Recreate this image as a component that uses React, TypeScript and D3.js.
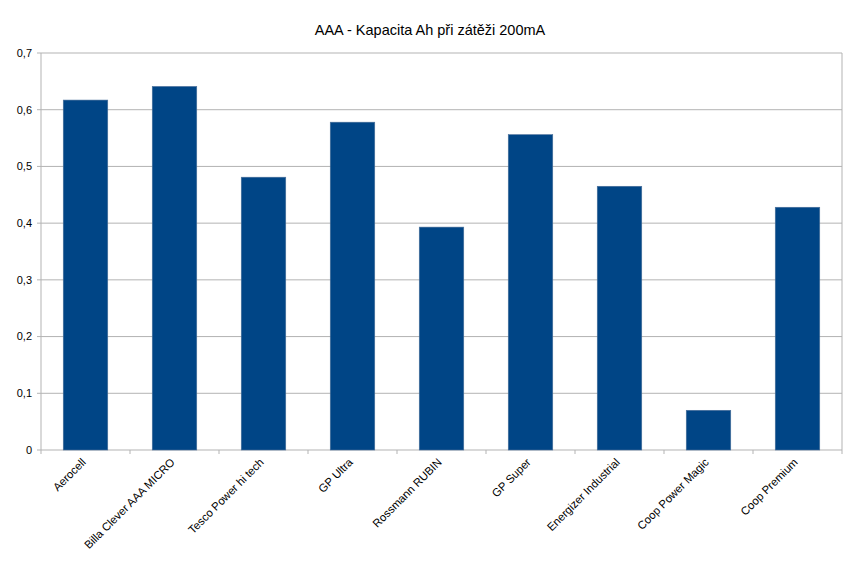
import React from "react";
import * as d3 from "d3";

const title = "AAA - Kapacita Ah při zátěži 200mA";
const categories = [
  "Aerocell",
  "Billa Clever AAA MICRO",
  "Tesco Power hi tech",
  "GP Ultra",
  "Rossmann RUBIN",
  "GP Super",
  "Energizer Industrial",
  "Coop Power Magic",
  "Coop Premium",
];
const values = [0.617, 0.641, 0.481, 0.578, 0.393, 0.556, 0.465, 0.07, 0.428];
const yTicks = [0, 0.1, 0.2, 0.3, 0.4, 0.5, 0.6, 0.7];

export default function App() {
  const W = 860, H = 571;
  const left = 41, right = 842, top = 53, bottom = 450;
  const x = d3.scaleBand<string>().domain(categories).range([left, right]).paddingInner(0.5).paddingOuter(0.25);
  const band = d3.scaleBand<string>().domain(categories).range([left, right]);
  const y = d3.scaleLinear().domain([0, 0.7]).range([bottom, top]);
  const fmt = (v: number) => (v === 0 ? "0" : v.toFixed(1).replace(".", ","));
  const font = "'Liberation Sans', Arial, sans-serif";
  return (
    <svg width={W} height={H} style={{ position: "absolute", left: 0, top: 0, background: "#fff" }} fontFamily={font}>
      <rect x={0} y={0} width={W} height={H} fill="#fff" />
      <text x={430} y={35} textAnchor="middle" fontSize={14.5} fill="#000">{title}</text>
      {yTicks.map((t) => (
        <g key={t}>
          <line x1={left - 4} x2={right} y1={y(t)} y2={y(t)} stroke="#b3b3b3" strokeWidth={1} />
          <text x={32} y={y(t)} dy="0.35em" textAnchor="end" fontSize={11} fill="#000">{fmt(t)}</text>
        </g>
      ))}
      <line x1={left} x2={left} y1={top} y2={bottom} stroke="#b3b3b3" />
      <line x1={right} x2={right} y1={top} y2={bottom + 4} stroke="#b3b3b3" />
      {categories.map((c) => (
        <line key={"t" + c} x1={band(c)!} x2={band(c)!} y1={bottom} y2={bottom + 4} stroke="#b3b3b3" />
      ))}
      {categories.map((c, i) => (
        <rect key={c} x={x(c)!} y={y(values[i])} width={x.bandwidth()} height={bottom - y(values[i])} fill="#004586" stroke="#4a6f9a" strokeWidth={0.6} />
      ))}
      {categories.map((c) => {
        const cx = band(c)! + band.bandwidth() / 2;
        return (
          <text key={"l" + c} transform={`translate(${cx + 1},${463}) rotate(-45)`} textAnchor="end" fontSize={11.3} fill="#000">{c}</text>
        );
      })}
    </svg>
  );
}
